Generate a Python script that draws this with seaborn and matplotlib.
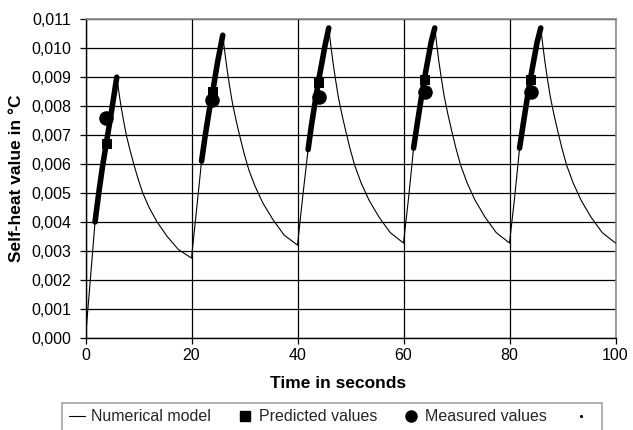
import matplotlib
matplotlib.use("Agg")
import matplotlib.pyplot as plt
from matplotlib.lines import Line2D
import seaborn as sns
import pandas as pd

# ---------------- data ----------------
model_time = [
    0.0, 1.0, 1.8, 2.5, 3.2, 4.0, 4.8, 5.4, 5.9,
    6.3, 6.7, 7.2, 7.7, 8.4, 9.1, 9.9, 10.8, 12.0, 13.5, 15.4, 17.5, 20.0,
    21.0, 21.9, 22.6, 23.3, 24.0, 24.9, 25.9,
    26.3, 26.7, 27.2, 27.7, 28.4, 29.1, 29.9, 30.8, 32.0, 33.5, 35.4, 37.5, 40.0,
    41.0, 42.0, 42.6, 43.2, 43.9, 44.6, 45.2, 45.9,
    46.3, 46.7, 47.2, 47.7, 48.4, 49.1, 49.9, 50.8, 52.0, 53.5, 55.4, 57.5, 60.0,
    61.0, 61.9, 62.6, 63.2, 63.9, 64.6, 65.2, 65.9,
    66.3, 66.7, 67.2, 67.7, 68.4, 69.1, 69.9, 70.8, 72.0, 73.5, 75.4, 77.5, 80.0,
    81.0, 81.9, 82.6, 83.2, 83.9, 84.6, 85.2, 85.9,
    86.3, 86.7, 87.2, 87.7, 88.4, 89.1, 89.9, 90.8, 92.0, 93.5, 95.4, 97.5, 100.0,
]
model_value = [
    0.0, 0.0022, 0.0040, 0.0050, 0.0059, 0.0068, 0.0077, 0.0084, 0.0090,
    0.00848, 0.00800, 0.00748, 0.00700, 0.00648, 0.00600, 0.00550, 0.00500, 0.00450, 0.00400, 0.00350, 0.00305, 0.00275,
    0.0045, 0.0061, 0.0070, 0.0078, 0.0085, 0.0095, 0.01045,
    0.00984, 0.00929, 0.00868, 0.00813, 0.00752, 0.00697, 0.00638, 0.00581, 0.00523, 0.00464, 0.00407, 0.00354, 0.00320,
    0.0049, 0.0065, 0.0073, 0.0080, 0.0088, 0.0095, 0.0101, 0.0107,
    0.01008, 0.00951, 0.00889, 0.00832, 0.00770, 0.00714, 0.00654, 0.00595, 0.00535, 0.00475, 0.00416, 0.00363, 0.00327,
    0.0049, 0.00655, 0.0074, 0.0081, 0.0089, 0.0096, 0.0102, 0.0107,
    0.01008, 0.00951, 0.00889, 0.00832, 0.00770, 0.00714, 0.00654, 0.00595, 0.00535, 0.00475, 0.00416, 0.00363, 0.00327,
    0.0049, 0.00655, 0.0074, 0.0081, 0.0089, 0.0096, 0.0102, 0.0107,
    0.01008, 0.00951, 0.00889, 0.00832, 0.00770, 0.00714, 0.00654, 0.00595, 0.00535, 0.00475, 0.00416, 0.00363, 0.00327,
]

# dense measured data (thick black traces), one trace per heating pulse
trace_cycle = [1] * 7 + [2] * 6 + [3] * 7 + [4] * 7 + [5] * 7
trace_time = [
    1.8, 2.5, 3.2, 4.0, 4.8, 5.4, 5.9,
    21.9, 22.6, 23.3, 24.0, 24.9, 25.9,
    42.0, 42.6, 43.2, 43.9, 44.6, 45.2, 45.9,
    61.9, 62.6, 63.2, 63.9, 64.6, 65.2, 65.9,
    81.9, 82.6, 83.2, 83.9, 84.6, 85.2, 85.9,
]
trace_value = [
    0.0040, 0.0050, 0.0059, 0.0068, 0.0077, 0.0084, 0.0090,
    0.0061, 0.0070, 0.0078, 0.0085, 0.0095, 0.01045,
    0.0065, 0.0073, 0.0080, 0.0088, 0.0095, 0.0101, 0.0107,
    0.00655, 0.0074, 0.0081, 0.0089, 0.0096, 0.0102, 0.0107,
    0.00655, 0.0074, 0.0081, 0.0089, 0.0096, 0.0102, 0.0107,
]

predicted_time = [4, 24, 44, 64, 84]
predicted_value = [0.0067, 0.0085, 0.0088, 0.0089, 0.0089]
measured_time = [3.9, 23.9, 44, 64, 84]
measured_value = [0.0076, 0.0082, 0.0083, 0.0085, 0.0085]

x_ticks = [0, 20, 40, 60, 80, 100]
y_ticks = [0.000, 0.001, 0.002, 0.003, 0.004, 0.005, 0.006, 0.007, 0.008, 0.009, 0.010, 0.011]
y_tick_labels = ["0,000", "0,001", "0,002", "0,003", "0,004", "0,005",
                 "0,006", "0,007", "0,008", "0,009", "0,010", "0,011"]

# ---------------- figure ----------------
sns.set_theme(style="white")
plt.rcParams["font.family"] = ["Liberation Sans", "DejaVu Sans"]

W, H = 633, 430
fig = plt.figure(figsize=(W / 100, H / 100), dpi=100)
ax_left, ax_right, ax_top, ax_bottom = 85.5, 615.5, 19.3, 337.7
ax = fig.add_axes([ax_left / W, 1 - ax_bottom / H, (ax_right - ax_left) / W, (ax_bottom - ax_top) / H])
ax_w, ax_h = ax_right - ax_left, ax_bottom - ax_top

model_df = pd.DataFrame({"t": model_time, "v": model_value})
trace_df = pd.DataFrame({"t": trace_time, "v": trace_value, "cycle": trace_cycle})
pred_df = pd.DataFrame({"t": predicted_time, "v": predicted_value})
meas_df = pd.DataFrame({"t": measured_time, "v": measured_value})

sns.lineplot(data=model_df, x="t", y="v", sort=False, estimator=None,
             color="black", lw=0.8, ax=ax, zorder=3)
sns.lineplot(data=trace_df, x="t", y="v", units="cycle", estimator=None, sort=False,
             color="black", lw=4.0, solid_capstyle="round", ax=ax, zorder=4)
sns.scatterplot(data=pred_df, x="t", y="v", marker="s", s=48, color="black",
                edgecolor="black", linewidth=0, ax=ax, zorder=5)
sns.scatterplot(data=meas_df, x="t", y="v", marker="o", s=110, color="black",
                edgecolor="black", linewidth=0, ax=ax, zorder=6)

ax.set_xlim(0, 100)
ax.set_ylim(0, 0.011)
ax.set_xticks(x_ticks)
ax.set_xticklabels([str(v) for v in x_ticks])
ax.set_yticks(y_ticks)
ax.set_yticklabels(y_tick_labels)

ax.set_axisbelow(True)
ax.grid(True, color="black", lw=0.9)
for side in ("left", "bottom"):
    ax.spines[side].set_color("black")
    ax.spines[side].set_linewidth(1.0)
for side in ("top", "right"):
    ax.spines[side].set_color("#8c8c8c")
    ax.spines[side].set_linewidth(1.2)

ax.tick_params(axis="both", which="major", direction="out", length=4, width=0.9,
               color="black", labelsize=11.5, labelcolor="black",
               bottom=True, left=True, top=False, right=False)
ax.tick_params(axis="x", pad=3.5)
ax.tick_params(axis="y", pad=6)

ax.set_xlabel("Time in seconds", fontsize=12.5, fontweight="bold", color="black")
ax.xaxis.label.set_va("center")
ax.xaxis.set_label_coords((338 - ax_left) / ax_w, -(384 - ax_bottom) / ax_h)
ax.set_ylabel("Self-heat value in °C", fontsize=12.5, fontweight="bold", color="black")
ax.yaxis.label.set_va("center")
ax.yaxis.set_label_coords(-(ax_left - 17) / ax_w, 0.5)

handles = [
    Line2D([], [], color="black", lw=0.8),
    Line2D([], [], color="black", marker="s", ls="none", markersize=6.5),
    Line2D([], [], color="black", marker="o", ls="none", markersize=8),
    Line2D([], [], color="black", marker=".", ls="none", markersize=2.5),
]
labels = ["Numerical model", "Predicted values", "Measured values", ""]
leg = fig.legend(handles, labels, loc="upper center", bbox_to_anchor=(332 / W, 1 - 403 / H),
                 ncol=4, frameon=True, fancybox=False, fontsize=11.5,
                 handlelength=1.0, handletextpad=0.4, columnspacing=1.6,
                 borderpad=0.4, borderaxespad=0)
leg.get_frame().set_edgecolor("#8c8c8c")
leg.get_frame().set_linewidth(1.2)

fig.savefig("out.png", dpi=100)
